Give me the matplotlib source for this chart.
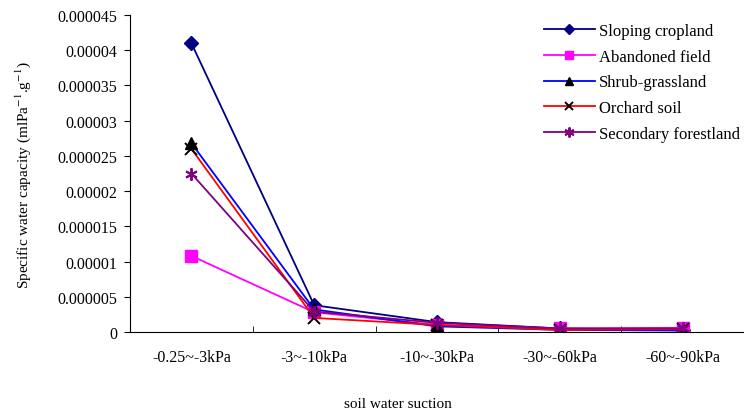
import numpy as np
import matplotlib
matplotlib.use("Agg")
import matplotlib.pyplot as plt

plt.rcParams['font.family'] = ['Liberation Serif', 'DejaVu Serif']
plt.rcParams['mathtext.fontset'] = 'stix'

suction = ['-0.25~-3kPa', '-3~-10kPa', '-10~-30kPa', '-30~-60kPa', '-60~-90kPa']
sloping = [41.0e-6, 3.8e-6, 1.4e-6, 0.5e-6, 0.3e-6]
abandoned = [10.8e-6, 2.8e-6, 1.0e-6, 0.5e-6, 0.6e-6]
shrub = [26.8e-6, 3.2e-6, 0.8e-6, 0.3e-6, 0.2e-6]
orchard = [26.0e-6, 2.0e-6, 1.0e-6, 0.3e-6, 0.4e-6]
secondary = [22.5e-6, 2.9e-6, 1.3e-6, 0.5e-6, 0.5e-6]

fig = plt.figure(figsize=(7.44, 4.14), dpi=100)
# plot area: x from 130 px to the right edge, y from 16 px to 333 px
ax = fig.add_axes([130 / 744, 81 / 414, 614 / 744, 317 / 414])
x = np.arange(len(suction))

ax.plot(x, sloping, color='#000080', marker='D', ms=7, lw=1.3, label='Sloping cropland')
ax.plot(x, abandoned, color='#FF00FF', marker='s', ms=8, lw=1.3, label='Abandoned field')
ax.plot(x, shrub, color='#0000FF', marker='^', ms=8, mfc='black', mec='black', lw=1.3, label='Shrub-grassland')
ax.plot(x, orchard, color='#FF0000', marker='x', ms=8, mec='black', mew=1.4, lw=1.3, label='Orchard soil')
ax.plot(x, secondary, color='#800080', marker=(6, 2, 0), ms=9, mew=1.4, lw=1.3, label='Secondary forestland')

ax.set_xlim(-0.5, 4.5)
ax.set_ylim(0, 0.000045)
ax.set_yticks(np.arange(0, 0.0000451, 0.000005))
ax.set_yticklabels(['0', '0.000005', '0.00001', '0.000015', '0.00002',
                    '0.000025', '0.00003', '0.000035', '0.00004', '0.000045'])
ax.set_xticks(x)
ax.set_xticklabels(suction)
ax.set_xticks(np.arange(0.5, 4.5, 1), minor=True)
ax.tick_params(axis='x', which='major', length=0, labelsize=11.5, pad=12)
ax.tick_params(axis='x', which='minor', direction='in', length=4)
ax.tick_params(axis='y', direction='out', length=4, labelsize=11.5, pad=5)

ax.spines['top'].set_visible(False)
ax.spines['right'].set_visible(False)

fig.text(23 / 744, 1 - 175 / 414, 'Specific water capacity (mlPa$^{-1}$.g$^{-1}$)',
         rotation=90, ha='center', va='center', fontsize=11)
fig.text(0.535, 3 / 414, 'soil water suction', ha='center', va='bottom', fontsize=11)

fig.legend(loc='upper left', bbox_to_anchor=(544 / 744, 1 - 24 / 414), frameon=False,
           fontsize=12, handlelength=3.05, labelspacing=0.58, handletextpad=0.25,
           borderpad=0, borderaxespad=0, markerscale=0.8)

fig.savefig('out.png', dpi=100)
